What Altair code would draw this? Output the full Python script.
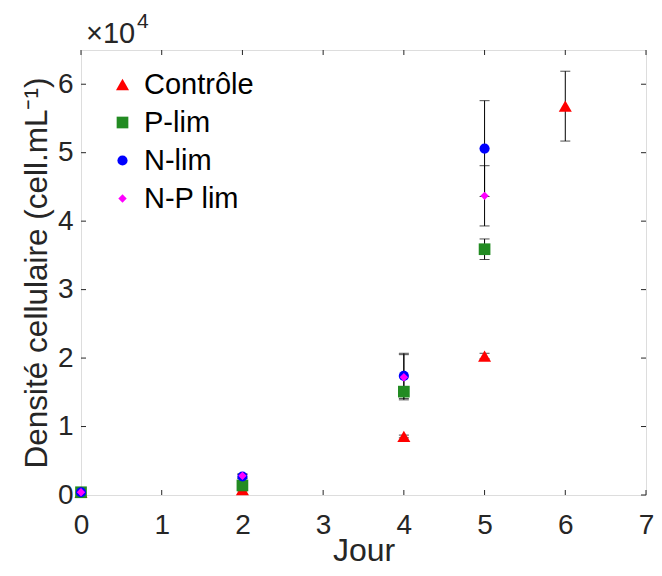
import altair as alt
import pandas as pd

# ---- data (cell density, in units of 10^4 cell/mL) ----
series = ["Contrôle", "P-lim", "N-lim", "N-P lim"]
colors = ["#ff0000", "#228b22", "#0000ff", "#ff00ff"]
shapes = ["triangle-up", "square", "circle", "diamond"]
sizes = [170, 70, 169, 150]

ctrl_days = [0, 2, 4, 5, 6]
ctrl_mean = [0.04, 0.08, 0.855, 2.03, 5.68]
ctrl_err = [0.01, 0.02, 0.02, 0.04, 0.51]

plim_days = [0, 2, 4, 5]
plim_mean = [0.04, 0.14, 1.51, 3.59]
plim_err = [0.01, 0.02, 0.07, 0.15]

nlim_days = [0, 2, 4, 5]
nlim_mean = [0.04, 0.27, 1.74, 5.06]
nlim_err = [0.01, 0.03, 0.33, 0.70]

nplim_days = [0, 2, 4, 5]
nplim_mean = [0.04, 0.28, 1.72, 4.37]
nplim_err = [0.01, 0.03, 0.33, 0.44]

x_ticks = [0, 1, 2, 3, 4, 5, 6, 7]
y_ticks = [0, 1, 2, 3, 4, 5, 6]

rows = []
for name, d, m, e in [
    (series[0], ctrl_days, ctrl_mean, ctrl_err),
    (series[1], plim_days, plim_mean, plim_err),
    (series[2], nlim_days, nlim_mean, nlim_err),
    (series[3], nplim_days, nplim_mean, nplim_err),
]:
    for di, mi, ei in zip(d, m, e):
        rows.append({"serie": name, "jour": di, "dens": mi, "lo": mi - ei, "hi": mi + ei})
df = pd.DataFrame(rows)

W, H = 565, 445
FONT = "Liberation Sans"
AX = "#262626"

xs = alt.Scale(domain=[0, 7], nice=False, zero=False)
ys = alt.Scale(domain=[0, 6.5], nice=False, zero=False)

x_axis = alt.Axis(values=x_ticks, format="d", ticks=False, domain=False, grid=False,
                  labelFlush=False, labelOverlap=False,
                  labelFontSize=28, labelFont=FONT, labelColor=AX, labelPadding=16,
                  title="Jour", titleFontSize=32, titleFont=FONT, titleColor=AX,
                  titleFontWeight="normal", titleBaseline="alphabetic", titleY=65)
y_axis = alt.Axis(values=y_ticks, format="d", ticks=False, domain=False, grid=False,
                  labelFlush=False, labelOverlap=False,
                  labelFontSize=28, labelFont=FONT, labelColor=AX, labelPadding=8,
                  title="Densité cellulaire (cell.mL⁻¹)", titleFontSize=31.5, titleFont=FONT,
                  titleColor=AX, titleFontWeight="normal", titleBaseline="alphabetic",
                  titleAngle=270, titleX=-35, titleY=H / 2)

base = alt.Chart(df)

bars = base.mark_rule(color="black", strokeWidth=1).encode(
    x=alt.X("jour:Q", scale=xs, axis=x_axis),
    y=alt.Y("lo:Q", scale=ys, axis=y_axis),
    y2="hi:Q",
)
cap_lo = base.mark_tick(orient="horizontal", color="black", size=10, thickness=1).encode(
    x=alt.X("jour:Q", scale=xs), y=alt.Y("lo:Q", scale=ys))
cap_hi = base.mark_tick(orient="horizontal", color="black", size=10, thickness=1).encode(
    x=alt.X("jour:Q", scale=xs), y=alt.Y("hi:Q", scale=ys))

points = base.mark_point(filled=True, opacity=1, strokeWidth=0).encode(
    x=alt.X("jour:Q", scale=xs),
    y=alt.Y("dens:Q", scale=ys),
    color=alt.Color("serie:N", sort=series, scale=alt.Scale(domain=series, range=colors),
                    legend=alt.Legend(orient="none", legendX=27, legendY=20, title=None,
                                      labelFontSize=29, labelFont=FONT, labelColor="black",
                                      rowPadding=8, labelOffset=7, padding=0,
                                      symbolStrokeWidth=0)),
    shape=alt.Shape("serie:N", sort=series, scale=alt.Scale(domain=series, range=shapes)),
    size=alt.Size("serie:N", sort=series, scale=alt.Scale(domain=series, range=sizes)),
)

xt = pd.DataFrame({"t": x_ticks})
yt = pd.DataFrame({"t": y_ticks})
tick_b = alt.Chart(xt).mark_rule(color=AX).encode(x=alt.X("t:Q", scale=xs), y=alt.value(H), y2=alt.value(H - 5))
tick_t = alt.Chart(xt).mark_rule(color=AX).encode(x=alt.X("t:Q", scale=xs), y=alt.value(0), y2=alt.value(5))
tick_l = alt.Chart(yt).mark_rule(color=AX).encode(y=alt.Y("t:Q", scale=ys), x=alt.value(0), x2=alt.value(5))
tick_r = alt.Chart(yt).mark_rule(color=AX).encode(y=alt.Y("t:Q", scale=ys), x=alt.value(W), x2=alt.value(W - 5))

mult = pd.DataFrame({"txt": ["×10"], "sup": ["4"]})
mult_txt = alt.Chart(mult).mark_text(font=FONT, fontSize=29, color=AX, align="left", baseline="alphabetic").encode(
    text="txt:N", x=alt.value(5), y=alt.value(-7))
mult_sup = alt.Chart(mult).mark_text(font=FONT, fontSize=21, color=AX, align="left", baseline="alphabetic").encode(
    text="sup:N", x=alt.value(56), y=alt.value(-22))

chart = alt.layer(
    tick_b, tick_t, tick_l, tick_r, bars, cap_lo, cap_hi, points, mult_txt, mult_sup
).properties(
    width=W, height=H,
    autosize=alt.AutoSizeParams(type="none"),
    padding={"left": 73, "top": 42, "right": 8, "bottom": 71},
).configure_view(stroke=AX, strokeWidth=1).configure(background="white")

chart.save("out.html", embed_options={"renderer": "svg", "actions": False})
